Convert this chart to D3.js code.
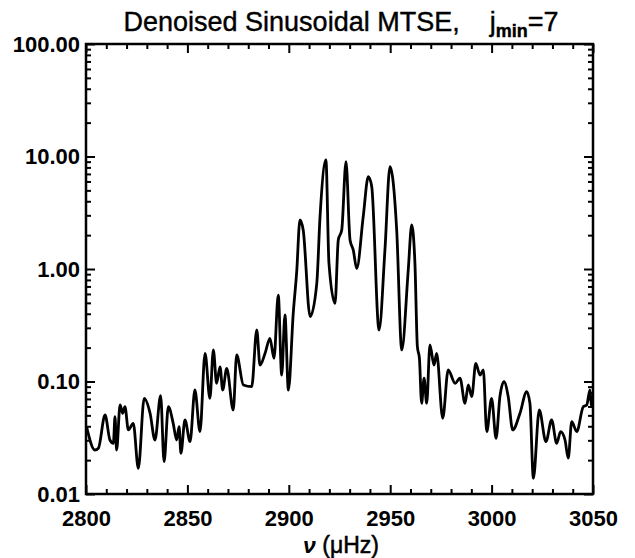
<!DOCTYPE html>
<html>
<head>
<meta charset="utf-8">
<script src="https://cdn.jsdelivr.net/npm/d3@7"></script>
<style>
  html, body { margin: 0; padding: 0; background: #fff; }
  svg { display: block; }
  text { font-family: "Liberation Sans", Arial, Helvetica, sans-serif; fill: #000; }
</style>
</head>
<body>
<svg id="chart" width="635" height="558"></svg>
<script>
// ---- data ----
const freq = [
  2800.3, 2804.4, 2806.1, 2809.4, 2811.8, 2813.5, 2814.3, 2815.1, 2816.8, 2818.1,
  2819.2, 2820.9, 2823.3, 2825.8, 2828.7, 2831.6, 2834.0, 2836.8, 2838.5, 2840.6,
  2843.0, 2844.7, 2845.9, 2846.8, 2848.8, 2851.3, 2853.7, 2856.2, 2858.7, 2861.1,
  2862.8, 2864.4, 2866.1, 2867.4, 2869.4, 2872.6, 2874.3, 2877.6, 2881.7, 2884.2,
  2885.8, 2888.3, 2890.7, 2892.7, 2894.8, 2896.5, 2898.1, 2899.8, 2902.2, 2903.9,
  2905.5, 2907.1, 2910.5, 2913.8, 2915.4, 2918.3, 2919.8, 2922.8, 2924.4, 2926.1,
  2928.2, 2930.2, 2931.8, 2933.5, 2936.7, 2939.2, 2940.9, 2944.5, 2947.4, 2949.9,
  2953.2, 2955.7, 2958.9, 2960.6, 2962.2, 2963.4, 2964.4, 2965.5, 2966.7, 2968.0,
  2969.6, 2971.6, 2972.9, 2975.9, 2978.6, 2982.0, 2984.4, 2986.9, 2988.5, 2990.2,
  2992.2, 2994.3, 2995.9, 2997.6, 3000.0, 3002.2, 3004.1, 3006.1, 3008.2, 3010.4,
  3014.0, 3017.3, 3018.9, 3020.6, 3023.5, 3026.8, 3029.6, 3032.1, 3034.0, 3036.2,
  3037.8, 3039.5, 3042.0, 3045.2, 3046.9, 3048.5, 3049.3, 3050.0
];
const power = [
  0.0396, 0.0246, 0.0255, 0.0504, 0.0302, 0.0282, 0.0486, 0.0246, 0.0618, 0.0522,
  0.0597, 0.0371, 0.0425, 0.0169, 0.0709, 0.0522, 0.0302, 0.0748, 0.0194, 0.0597,
  0.0425, 0.0302, 0.0396, 0.0230, 0.0455, 0.0292, 0.0840, 0.0358, 0.178, 0.0709,
  0.191, 0.0964, 0.135, 0.0840, 0.131, 0.0558, 0.172, 0.0931, 0.0899, 0.287,
  0.140, 0.178, 0.242, 0.161, 0.587, 0.114, 0.390, 0.0840, 0.406, 0.946,
  2.73, 2.22, 0.377, 0.746, 2.92, 9.31, 1.13, 0.495, 1.81, 2.22,
  8.99, 1.81, 1.47, 1.01, 2.92, 6.62, 5.39, 0.287, 1.47, 8.11,
  2.22, 0.191, 0.98, 2.46, 1.12, 0.204, 0.161, 0.064, 0.107, 0.064,
  0.211, 0.140, 0.178, 0.0471, 0.127, 0.0964, 0.107, 0.064, 0.0931, 0.0733,
  0.145, 0.114, 0.127, 0.0358, 0.0709, 0.0313, 0.0733, 0.0996, 0.0733, 0.0371,
  0.0522, 0.0812, 0.064, 0.0138, 0.0558, 0.0292, 0.0455, 0.0282, 0.0358, 0.0302,
  0.0208, 0.0440, 0.0358, 0.0597, 0.0618, 0.0840, 0.0597, 0.0733
];
const xMajorTicks = [2800, 2850, 2900, 2950, 3000, 3050];
const xTickLabels = ["2800", "2850", "2900", "2950", "3000", "3050"];
const yMajorTicks = [0.01, 0.1, 1, 10, 100];
const yTickLabels = ["0.01", "0.10", "1.00", "10.00", "100.00"];
const titleMain = "Denoised Sinusoidal MTSE,";
const xAxisLabel = ["\u03BD", " (\u03BCHz)"];

// ---- layout ----
const L = 86, R = 593, T = 44, B = 494;
const svg = d3.select("#chart");
const x = d3.scaleLinear().domain([2800, 3050]).range([L, R]);
const y = d3.scaleLog().domain([0.01, 100]).range([B, T]);

const xMinor = d3.range(2800, 3050.1, 10).filter(v => v % 50 !== 0);
const yMinor = [];
for (let d = 0.01; d < 100; d *= 10) for (let k = 2; k <= 9; k++) yMinor.push(+(d * k).toPrecision(3));

function styleAxis(g) {
  g.select(".domain").remove();
  g.selectAll(".tick line").attr("stroke", "#000").attr("stroke-width", 2);
}
function styleLabels(g) {
  g.selectAll("text").attr("font-size", 22).attr("font-weight", "bold")
    .attr("font-family", "Liberation Sans, Arial, sans-serif");
}

// bottom major (with labels)
svg.append("g").attr("transform", `translate(0,${B})`)
  .call(d3.axisBottom(x).tickValues(xMajorTicks).tickSize(-9).tickPadding(16)
    .tickFormat((d, i) => xTickLabels[i]))
  .call(styleAxis).call(styleLabels);
svg.append("g").attr("transform", `translate(0,${B})`)
  .call(d3.axisBottom(x).tickValues(xMinor).tickSize(-5).tickFormat(""))
  .call(styleAxis);
// top
svg.append("g").attr("transform", `translate(0,${T})`)
  .call(d3.axisTop(x).tickValues(xMajorTicks).tickSize(-9).tickFormat(""))
  .call(styleAxis);
svg.append("g").attr("transform", `translate(0,${T})`)
  .call(d3.axisTop(x).tickValues(xMinor).tickSize(-5).tickFormat(""))
  .call(styleAxis);
// left
svg.append("g").attr("transform", `translate(${L},0)`)
  .call(d3.axisLeft(y).tickValues(yMajorTicks).tickSize(-9).tickPadding(6)
    .tickFormat((d, i) => yTickLabels[i]))
  .call(styleAxis).call(styleLabels);
svg.append("g").attr("transform", `translate(${L},0)`)
  .call(d3.axisLeft(y).tickValues(yMinor).tickSize(-5).tickFormat(""))
  .call(styleAxis);
// right
svg.append("g").attr("transform", `translate(${R},0)`)
  .call(d3.axisRight(y).tickValues(yMajorTicks).tickSize(-9).tickFormat(""))
  .call(styleAxis);
svg.append("g").attr("transform", `translate(${R},0)`)
  .call(d3.axisRight(y).tickValues(yMinor).tickSize(-5).tickFormat(""))
  .call(styleAxis);

// frame
svg.append("rect").attr("x", L).attr("y", T).attr("width", R - L).attr("height", B - T)
  .attr("fill", "none").attr("stroke", "#000").attr("stroke-width", 2.5);

// curve
svg.append("defs").append("clipPath").attr("id", "clip")
  .append("rect").attr("x", L).attr("y", T).attr("width", R - L).attr("height", B - T);
const pts = freq.map((f, i) => [f, power[i]]);
svg.append("path").datum(pts)
  .attr("clip-path", "url(#clip)")
  .attr("fill", "none").attr("stroke", "#000").attr("stroke-width", 2.8)
  .attr("stroke-linejoin", "round")
  .attr("d", d3.line().x(d => x(d[0])).y(d => y(d[1])).curve(d3.curveMonotoneX));

// title
const title = svg.append("text").attr("x", 341).attr("y", 31).attr("text-anchor", "middle")
  .attr("font-size", 27).attr("stroke", "#000").attr("stroke-width", 0.4);
title.append("tspan").text(titleMain);
title.append("tspan").attr("dx", 30).text("j");
title.append("tspan").attr("font-size", 18).attr("font-weight", "bold").attr("dy", 6).text("min");
title.append("tspan").attr("dy", -6).text("=7");

// x axis label
const xl = svg.append("text").attr("x", 341).attr("y", 553).attr("text-anchor", "middle")
  .attr("font-size", 23).attr("font-weight", "bold");
xl.append("tspan").attr("font-style", "italic").text(xAxisLabel[0]);
xl.append("tspan").attr("font-weight", "normal").attr("stroke", "#000").attr("stroke-width", 0.5).text(xAxisLabel[1]);
</script>
</body>
</html>
